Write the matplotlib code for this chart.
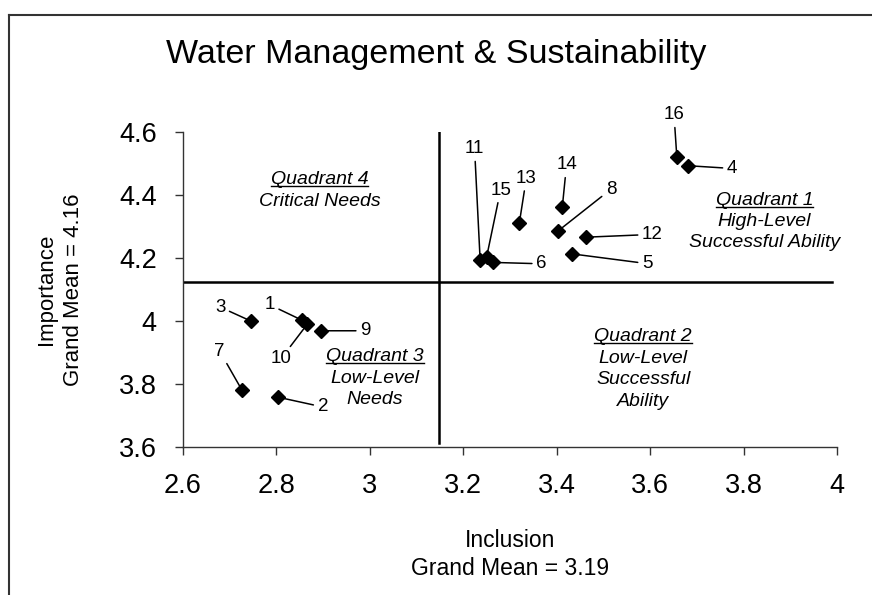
import matplotlib
matplotlib.use("Agg")
import matplotlib.pyplot as plt
from matplotlib.lines import Line2D

# item numbers with their (inclusion, importance) means
item_ids = ["1", "2", "3", "4", "5", "6", "7", "8", "9", "10", "11", "12", "13", "14", "15", "16"]
inclusion = [2.854, 2.804, 2.745, 3.680, 3.433, 3.263, 2.726, 3.403, 2.895, 2.866, 3.236, 3.462, 3.320, 3.412, 3.250, 3.657]
importance = [4.003, 3.758, 4.000, 4.493, 4.213, 4.186, 3.781, 4.286, 3.969, 3.990, 4.194, 4.266, 4.312, 4.363, 4.204, 4.522]

# where the quadrant dividers cross
split_x = 3.148
split_y = 4.124

x_ticks = [2.6, 2.8, 3.0, 3.2, 3.4, 3.6, 3.8, 4.0]
x_tick_labels = ["2.6", "2.8", "3", "3.2", "3.4", "3.6", "3.8", "4"]
y_ticks = [3.6, 3.8, 4.0, 4.2, 4.4, 4.6]
y_tick_labels = ["3.6", "3.8", "4", "4.2", "4.4", "4.6"]

quadrant_titles = ["Quadrant 1", "Quadrant 2", "Quadrant 3", "Quadrant 4"]
quadrant_texts = ["High-Level\nSuccessful Ability", "Low-Level\nSuccessful\nAbility",
                  "Low-Level\nNeeds", "Critical Needs"]

# label offsets (points) from each marker, placed by hand like the original
label_offsets = {
    "1": (-23, 11), "2": (32, -7), "3": (-22, 10), "4": (32, -2),
    "5": (54, -7), "6": (35, -1), "7": (-16, 28), "8": (38, 30),
    "9": (32, 0), "10": (-19, -25), "11": (-4, 80), "12": (48, 2),
    "13": (5, 32), "14": (3, 30), "15": (10, 48), "16": (-2, 30),
}
quadrant_pos = [(3.845, 4.384), (3.585, 3.950), (3.011, 3.887), (2.892, 4.448)]

plt.rcParams["font.family"] = ["Liberation Sans", "DejaVu Sans"]

fig = plt.figure(figsize=(8.72, 5.95), dpi=100)
ax = fig.add_axes([0.2099, 0.2487, 0.75, 0.5295])

ax.plot(inclusion, importance, linestyle="none", marker="D", markersize=7.5,
        color="black", zorder=3, clip_on=False)

for name, x, y in zip(item_ids, inclusion, importance):
    ax.annotate(name, xy=(x, y), xytext=label_offsets[name], textcoords="offset points",
                ha="center", va="center", fontsize=13.5, annotation_clip=False,
                arrowprops=dict(arrowstyle="-", color="black", lw=1.1, shrinkA=1, shrinkB=0))

# quadrant dividers
ax.plot([split_x, split_x], [3.613, 4.6], color="black", lw=1.8, zorder=2)
ax.plot([2.6, 3.99], [split_y, split_y], color="black", lw=1.8, zorder=2)

line_step = 0.068
title_artists = []
for title, body, (qx, qy) in zip(quadrant_titles, quadrant_texts, quadrant_pos):
    t = ax.text(qx, qy, title, ha="center", va="center", fontsize=14, style="italic")
    title_artists.append(t)
    for i, line in enumerate(body.split("\n")):
        ax.text(qx, qy - line_step * (i + 1), line, ha="center", va="center",
                fontsize=14, style="italic")

ax.set_xlim(2.6, 4.0)
ax.set_ylim(3.6, 4.6)
ax.set_xticks(x_ticks)
ax.set_xticklabels(x_tick_labels)
ax.set_yticks(y_ticks)
ax.set_yticklabels(y_tick_labels)
ax.tick_params(direction="out", length=6, width=1, labelsize=19.5, color="#333333")
ax.tick_params(axis="y", pad=13)
ax.tick_params(axis="x", pad=13)
for side in ["top", "right"]:
    ax.spines[side].set_visible(False)
for side in ["left", "bottom"]:
    ax.spines[side].set_color("#333333")
    ax.spines[side].set_linewidth(1)

ax.set_xlabel("Inclusion\nGrand Mean = 3.19", fontsize=16.5, linespacing=1.3, labelpad=21)
ax.set_ylabel("Importance\nGrand Mean = 4.16", fontsize=16, linespacing=1.35, labelpad=25)

fig.text(0.5, 0.908, "Water Management & Sustainability", ha="center", va="center", fontsize=24.5)

# the outer frame (only top and left edges show in the scan)
fig.add_artist(Line2D([0.0103, 1.0], [0.9748, 0.9748], color="#333333", lw=1.5))
fig.add_artist(Line2D([0.0103, 0.0103], [0.0, 0.9748], color="#333333", lw=1.5))

# underline the quadrant titles, measured from the rendered text
fig.canvas.draw()
renderer = fig.canvas.get_renderer()
inv = fig.transFigure.inverted()
for t in title_artists:
    bb = t.get_window_extent(renderer)
    (x0, y0), (x1, _) = inv.transform([(bb.x0, bb.y0 + 2), (bb.x1, bb.y0 + 2)])
    fig.add_artist(Line2D([x0, x1], [y0, y0], color="black", lw=1))

fig.savefig("out.png", dpi=100)
